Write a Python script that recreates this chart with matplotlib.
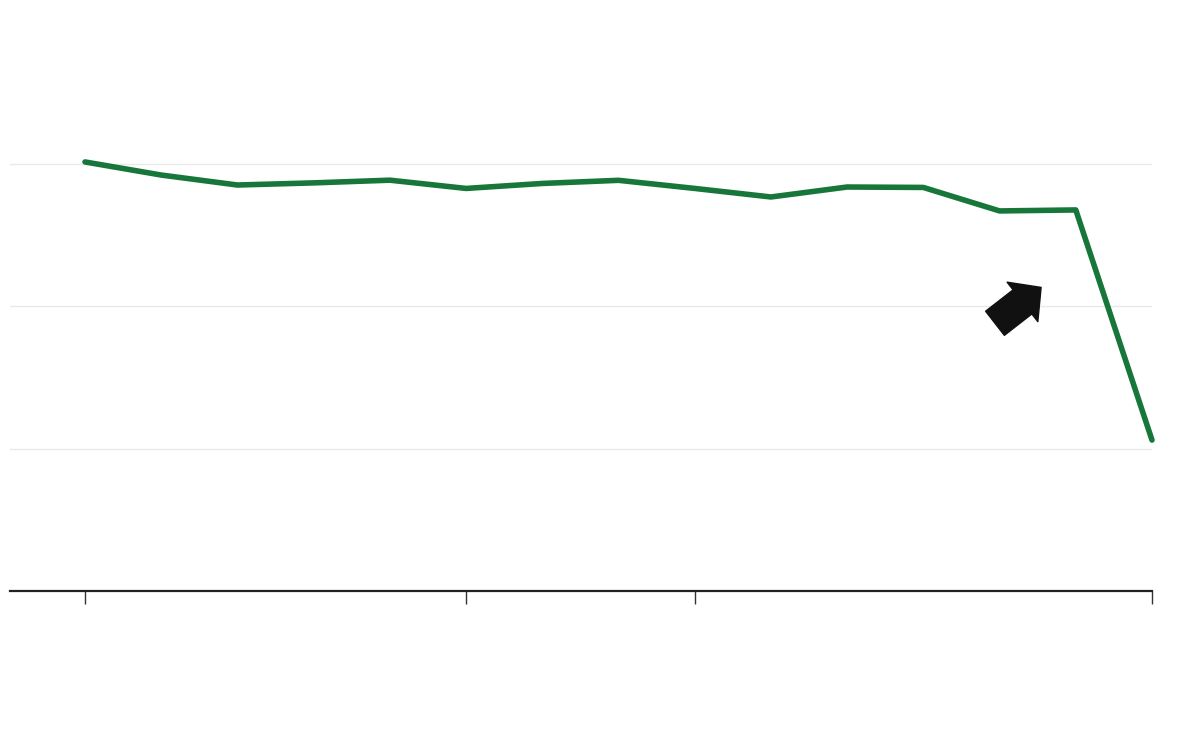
import matplotlib
matplotlib.use("Agg")
import matplotlib.pyplot as plt
from matplotlib.patches import FancyArrowPatch, ArrowStyle

# Data
x_idx = list(range(15))
values = [3.013, 2.921, 2.851, 2.866, 2.885, 2.827, 2.862, 2.884, 2.827,
          2.767, 2.837, 2.834, 2.669, 2.676, 1.060]
tick_positions = [0, 5, 8, 14]
tick_labels = ["", "", "", ""]
grid_levels = [1, 2, 3]

fig = plt.figure(figsize=(12, 7.54), dpi=100)
ax = fig.add_axes([10/1200, (754-591)/754, (1152-10)/1200, (591-21.4)/754])

for g in grid_levels:
    ax.axhline(g, color="#e9e9e9", lw=1.0, zorder=1)

ax.plot(x_idx, values, color="#17763a", lw=4.0, solid_capstyle="round",
        solid_joinstyle="round", zorder=3, clip_on=False)

arrow = FancyArrowPatch((11.94, 1.88), (12.545, 2.132),
                        arrowstyle=ArrowStyle.Simple(head_length=17, head_width=36, tail_width=22),
                        mutation_scale=1, shrinkA=0, shrinkB=0,
                        color="#111111", zorder=4)
ax.add_patch(arrow)

ax.set_xlim(-0.984, 14)
ax.set_ylim(0, 4)
for s in ["top", "right", "left"]:
    ax.spines[s].set_visible(False)
ax.spines["bottom"].set_color("#222222")
ax.spines["bottom"].set_linewidth(1.6)
ax.set_yticks([])
ax.set_xticks(tick_positions)
ax.set_xticklabels(tick_labels)
ax.tick_params(axis="x", direction="out", length=9, width=1.0, color="#333333")

fig.savefig("out.png", dpi=100)
